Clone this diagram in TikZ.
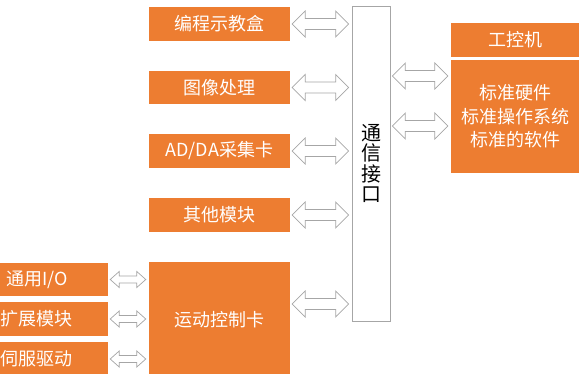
\documentclass[tikz,border=0pt]{standalone}
\usepackage{fontspec}
\setmainfont{Noto Sans CJK SC}
\usetikzlibrary{calc}
\definecolor{boxorange}{HTML}{ED7D31}
\definecolor{linegray}{HTML}{A6A6A6}
\tikzset{
  part/.style={fill=boxorange, text=white, font=\fontsize{18}{21}\selectfont, inner sep=0pt},
  % hollow double arrow: #1 head length, #2 head half height, #3 shaft half height
  link/.style n args={3}{draw=linegray, fill=white, line width=0.7pt, line join=miter,
    to path={let \p1=(\tikztostart), \p2=(\tikztotarget) in
      (\x1+2pt,\y1) -- (\x1+2pt+#1,\y1+#2) -- (\x1+2pt+#1,\y1+#3)
      -- (\x2-3pt-#1,\y1+#3) -- (\x2-3pt-#1,\y1+#2) -- (\x2-3pt,\y1)
      -- (\x2-3pt-#1,\y1-#2) -- (\x2-3pt-#1,\y1-#3) -- (\x1+2pt+#1,\y1-#3)
      -- (\x1+2pt+#1,\y1-#2) -- cycle}},
  biglink/.style={link={13pt}{13pt}{5.5pt}},
  smalllink/.style={link={9pt}{8pt}{3.5pt}}
}
\begin{document}
\begin{tikzpicture}[x=1pt, y=-1pt]
\useasboundingbox (0,0) rectangle (584,374);

% boxes on the left of the interface
\node[part, minimum width=141pt, minimum height=34pt] (teach) at (219.5,24) {编程示教盒};
\node[part, minimum width=141pt, minimum height=33pt] (image) at (219.5,87.5) {图像处理};
\node[part, minimum width=141pt, minimum height=34pt] (adda) at (219.5,151) {AD/DA采集卡};
\node[part, minimum width=141pt, minimum height=34pt] (other) at (219.5,215) {其他模块};
\node[part, minimum width=141pt, minimum height=116pt] (motion) at (219.5,320) {运动控制卡};

% modules of the motion card
\node[part, minimum width=142pt, minimum height=33pt] (io) at (37,279.5) {通用I/O};
\node[part, minimum width=142pt, minimum height=34pt] (ext) at (37,319) {扩展模块};
\node[part, minimum width=142pt, minimum height=34pt] (servo) at (37,359) {伺服驱动};

% interface
\node[draw=linegray, line width=0.6pt, minimum width=38pt, minimum height=315pt, inner sep=0pt,
      align=center, font=\fontsize{20}{20.5}\selectfont] (comm) at (371,163.5)
      {通\\信\\接\\口};

% industrial PC
\node[part, minimum width=128pt, minimum height=34pt] (pc) at (515,40) {工控机};
\node[part, minimum width=128pt, minimum height=113pt, align=center,
      font=\fontsize{18}{23.5}\selectfont] (pcbody) at (515,116.5)
      {标准硬件\\标准操作系统\\标准的软件};

% connections
\foreach \m in {teach, image, adda, other}
  \draw[biglink] (\m.east) to (\m.east -| comm.west);
\draw[biglink] ([yshift=16pt]motion.east) to ([yshift=16pt]motion.east -| comm.west);
\draw[biglink] ([yshift=40.5pt]pcbody.west -| comm.east) to ([yshift=40.5pt]pcbody.west);
\draw[biglink] ([yshift=-9.5pt]pcbody.west -| comm.east) to ([yshift=-9.5pt]pcbody.west);
\foreach \m in {io, ext, servo}
  \draw[smalllink] (\m.east) to (\m.east -| motion.west);
\end{tikzpicture}
\end{document}
